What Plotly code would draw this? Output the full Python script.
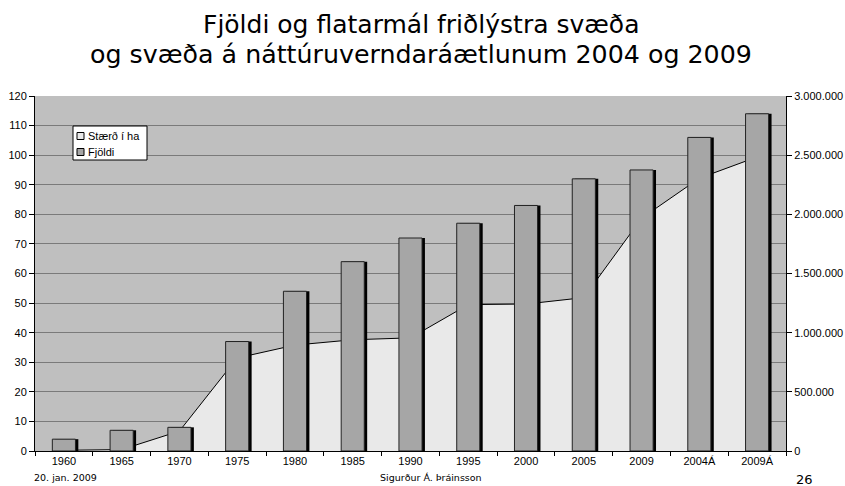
import plotly.graph_objects as go

categories = ["1960", "1965", "1970", "1975", "1980", "1985", "1990", "1995",
              "2000", "2005", "2009", "2004Á", "2009Á"]
fjoldi = [4, 7, 8, 37, 54, 64, 72, 77, 83, 92, 95, 106, 114]
staerd_ha = [6000, 12000, 168000, 786000, 895000, 940000, 956000, 1237000,
             1242000, 1296000, 1967000, 2305000, 2485000]

series_names = ["Stærð í ha", "Fjöldi"]
title_lines = ["Fjöldi og flatarmál friðlýstra svæða",
               "og svæða á náttúruverndaráætlunum 2004 og 2009"]
footer_date = "20. jan. 2009"
footer_author = "Sigurður Á. Þráinsson"
page_no = "26"

# plot area in pixels
W, H = 845, 486
L, R, T, B = 35, 786, 96, 451

def px(x):
    return (x - L) / (R - L)

def py(y):
    return (B - y) / (B - T)

AREA_FILL = "#e9e9e9"
BAR_FILL = "#a6a6a6"

fig = go.Figure()

fig.add_trace(go.Scatter(
    x=categories, y=staerd_ha, name=series_names[0],
    mode="lines", fill="tozeroy",
    line=dict(color="#000000", width=1),
    fillcolor=AREA_FILL, yaxis="y", showlegend=False,
))
fig.add_trace(go.Bar(
    x=categories, y=fjoldi, name="shadow", showlegend=False,
    marker=dict(color="#000000", line=dict(width=0)),
    offset=-0.15, width=0.4, yaxis="y2", hoverinfo="skip",
))
fig.add_trace(go.Bar(
    x=categories, y=fjoldi, name=series_names[1], showlegend=False,
    marker=dict(color=BAR_FILL, line=dict(color="#222222", width=1)),
    offset=-0.2, width=0.4, yaxis="y2",
))

fig.update_layout(
    width=W, height=H,
    margin=dict(l=L, r=W - R, t=T, b=H - B, autoexpand=False),
    paper_bgcolor="white",
    plot_bgcolor="#bfbfbf",
    separators=",.",
    barmode="overlay",
    showlegend=False,
    font=dict(family="Liberation Sans, Arial, sans-serif", size=11, color="black"),
    xaxis=dict(
        type="category", range=[-0.5, 12.5], automargin=False,
        showline=True, linecolor="black", linewidth=1,
        ticks="outside", ticklen=4, tickcolor="black", tickson="boundaries",
        showgrid=False, tickfont=dict(size=11),
    ),
    yaxis=dict(
        side="right", range=[0, 3000000], dtick=500000, tickformat=",d",
        automargin=False,
        showline=True, linecolor="black", linewidth=1,
        ticks="outside", ticklen=5, tickcolor="black",
        showgrid=False, zeroline=False, tickfont=dict(size=11),
    ),
    yaxis2=dict(
        overlaying="y", side="left", range=[0, 120], dtick=10,
        automargin=False,
        showline=True, linecolor="black", linewidth=1,
        ticks="outside", ticklen=5, tickcolor="black",
        showgrid=True, gridcolor="#7a7a7a", gridwidth=1,
        zeroline=False, tickfont=dict(size=11),
    ),
)

# Title (two lines)
fig.add_annotation(text=title_lines[0], xref="paper", yref="paper",
                   x=px(421), y=py(24), xanchor="center", yanchor="middle",
                   showarrow=False, font=dict(family="DejaVu Sans", size=25))
fig.add_annotation(text=title_lines[1], xref="paper", yref="paper",
                   x=px(421), y=py(55), xanchor="center", yanchor="middle",
                   showarrow=False, font=dict(family="DejaVu Sans", size=25.3))

# Legend (drawn manually to match small boxed legend)
fig.add_shape(type="rect", xref="paper", yref="paper",
              x0=px(73), x1=px(147), y0=py(160), y1=py(126),
              fillcolor="white", line=dict(color="black", width=1), layer="above")
for i, (name, col) in enumerate(zip(series_names, [AREA_FILL, BAR_FILL])):
    cy = 136 + i * 16
    fig.add_shape(type="rect", xref="paper", yref="paper",
                  x0=px(77), x1=px(84), y0=py(cy + 3.5), y1=py(cy - 3.5),
                  fillcolor=col, line=dict(color="black", width=1), layer="above")
    fig.add_annotation(text=name, xref="paper", yref="paper",
                       x=px(86), y=py(cy), xanchor="left", yanchor="middle",
                       showarrow=False, font=dict(size=11))

# Footer
fig.add_annotation(text=footer_date, xref="paper", yref="paper",
                   x=px(32), y=py(478), xanchor="left", yanchor="middle",
                   showarrow=False, font=dict(family="DejaVu Sans", size=9.5))
fig.add_annotation(text=footer_author, xref="paper", yref="paper",
                   x=px(431), y=py(478), xanchor="center", yanchor="middle",
                   showarrow=False, font=dict(family="DejaVu Sans", size=9.5))
fig.add_annotation(text=page_no, xref="paper", yref="paper",
                   x=px(804), y=py(480), xanchor="center", yanchor="middle",
                   showarrow=False, font=dict(family="DejaVu Sans", size=13))

fig.write_html("out.html", config={"displayModeBar": False},
               post_script="document.body.style.margin='0';")
